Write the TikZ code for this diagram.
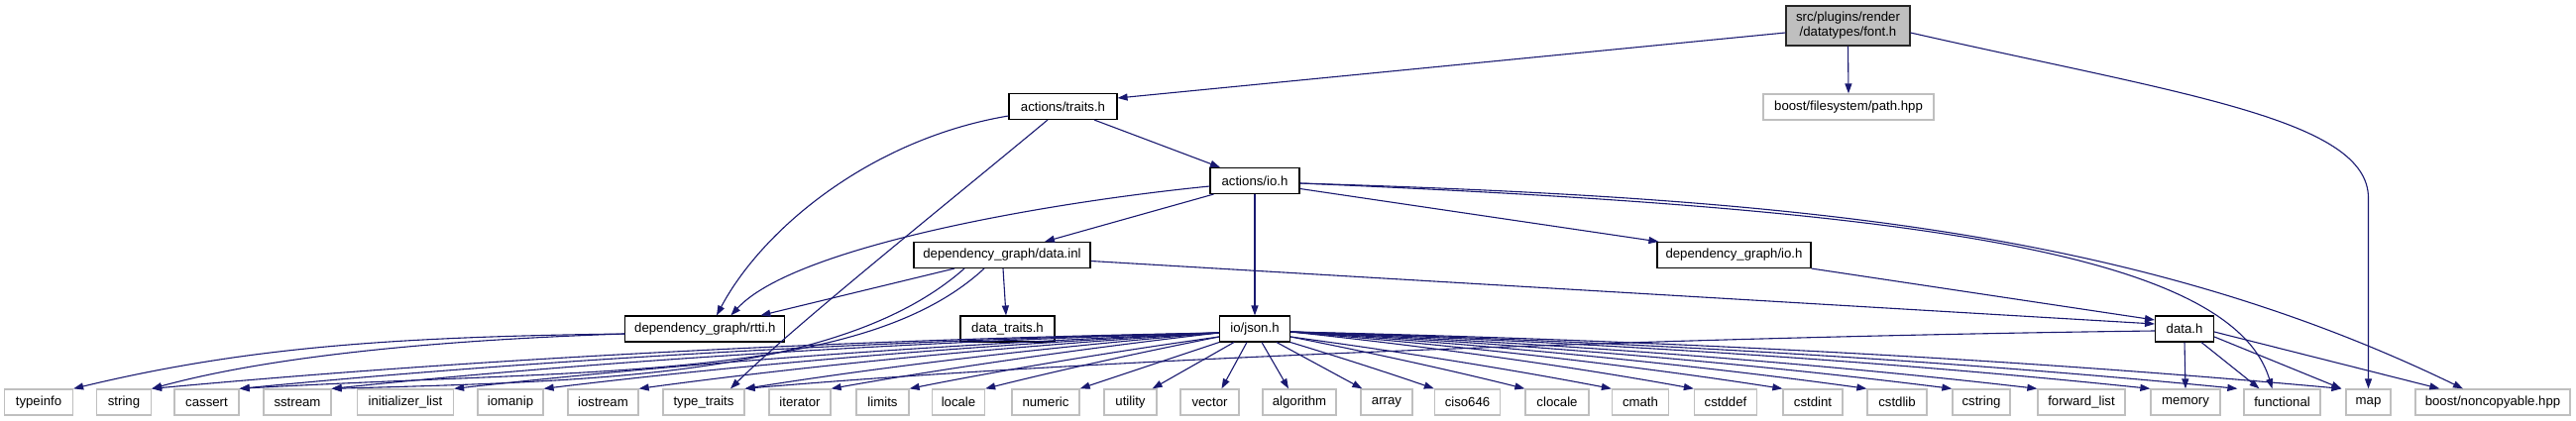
\documentclass[tikz,border=0pt]{standalone}
\usepackage{fontspec}
\setmainfont{Liberation Sans}
\usetikzlibrary{arrows.meta,calc}
\definecolor{edgec}{RGB}{25,25,112}
\definecolor{extc}{RGB}{191,191,191}
\begin{document}
\begin{tikzpicture}[x=1pt,y=-1pt,
  every node/.style={font=\fontsize{13.2}{15}\selectfont, inner sep=0pt, minimum height=26pt, align=center},
  intbox/.style={draw=black, line width=1.1pt, fill=white},
  extbox/.style={draw=extc, line width=1.3pt, fill=white},
  rootbox/.style={draw=black!85, line width=1.1pt, fill=extc, minimum height=40pt},
  dep/.style={draw=edgec, line width=1.1pt, -{Triangle[length=10pt,width=7pt]}},
  fan/.style={to path={.. controls ($(\tikztostart)!0.35!(\tikztotarget)+(0,-#1)$) and ($(\tikztostart)!0.7!(\tikztotarget)+(0,-#1)$) .. (\tikztotarget)}}
]
\fill[white] (0,0) rectangle (2599,425);
\useasboundingbox (0,0) rectangle (2599,425);

% internal nodes
\node[rootbox, minimum width=125pt] (font) at (1864.5,26) {src/plugins/render\\/datatypes/font.h};
\node[extbox, minimum width=172pt] (path) at (1865,108) {boost/filesystem/path.hpp};
\node[intbox, minimum width=109pt] (traits) at (1072.5,107.5) {actions/traits.h};
\node[intbox, minimum width=90pt] (aio) at (1266,182.5) {actions/io.h};
\node[intbox, minimum width=178pt] (datainl) at (1011,257.5) {dependency\_graph/data.inl};
\node[intbox, minimum width=155pt] (dgio) at (1749.5,257.5) {dependency\_graph/io.h};
\node[intbox, minimum width=161pt] (rtti) at (711.4,332) {dependency\_graph/rtti.h};
\node[intbox, minimum width=95pt] (datatraits) at (1016.5,332) {data\_traits.h};
\node[intbox, minimum width=71pt] (json) at (1266,332) {io/json.h};
\node[intbox, minimum width=59pt] (datah) at (2204,332) {data.h};

% bottom row
\node[extbox, minimum width=69pt] (typeinfo) at (39,406) {typeinfo};
\node[extbox, minimum width=55pt] (string) at (125,406) {string};
\node[extbox, minimum width=65pt] (cassert) at (208.5,406) {cassert};
\node[extbox, minimum width=68pt] (sstream) at (300,406) {sstream};
\node[extbox, minimum width=97pt] (initlist) at (409,406) {initializer\_list};
\node[extbox, minimum width=66pt] (iomanip) at (515,406) {iomanip};
\node[extbox, minimum width=71pt] (iostream) at (608.5,406) {iostream};
\node[extbox, minimum width=82pt] (typetraits) at (710,406) {type\_traits};
\node[extbox, minimum width=62pt] (iterator) at (807,406) {iterator};
\node[extbox, minimum width=53pt] (limits) at (890.5,406) {limits};
\node[extbox, minimum width=53pt] (locale) at (967,406) {locale};
\node[extbox, minimum width=68pt] (numeric) at (1055,406) {numeric};
\node[extbox, minimum width=53pt] (utility) at (1140.5,406) {utility};
\node[extbox, minimum width=59pt] (vector) at (1220.5,406) {vector};
\node[extbox, minimum width=74pt] (algorithm) at (1311,406) {algorithm};
\node[extbox, minimum width=52pt] (array) at (1399,406) {array};
\node[extbox, minimum width=66pt] (ciso) at (1480.5,406) {ciso646};
\node[extbox, minimum width=64pt] (clocale) at (1571,406) {clocale};
\node[extbox, minimum width=57pt] (cmath) at (1655,406) {cmath};
\node[extbox, minimum width=63pt] (cstddef) at (1741,406) {cstddef};
\node[extbox, minimum width=60pt] (cstdint) at (1829,406) {cstdint};
\node[extbox, minimum width=60pt] (cstdlib) at (1914,406) {cstdlib};
\node[extbox, minimum width=58pt] (cstring) at (1999,406) {cstring};
\node[extbox, minimum width=88pt] (fwdlist) at (2100,406) {forward\_list};
\node[extbox, minimum width=70pt] (memory) at (2205,406) {memory};
\node[extbox, minimum width=77pt] (functional) at (2302.5,406) {functional};
\node[extbox, minimum width=45pt] (map) at (2389.5,406) {map};
\node[extbox, minimum width=156pt] (noncopy) at (2515,406) {boost/noncopyable.hpp};

% font.h
\draw[dep] ([yshift=-7pt]font.west) -- ([yshift=8.5pt]traits.east);
\draw[dep] (font.south) -- (path.north);
\draw[dep] ([yshift=-7pt]font.east) .. controls (2200,95) and (2389.5,120) .. (2389.5,200) -- (map.north);

% actions/traits.h
\draw[dep] ([xshift=31.5pt]traits.south) -- ([xshift=-35pt]aio.north);
\draw[dep] ([yshift=-9.5pt]traits.west) .. controls (880,140) and (770,230) .. ([xshift=11.6pt]rtti.north);
\draw[dep] ([xshift=-15.5pt]traits.south) .. controls (950,210) and (800,330) .. ([xshift=27pt]typetraits.north);

% actions/io.h
\draw[dep] ([yshift=-5.5pt]aio.west) .. controls (1050,205) and (800,250) .. ([xshift=26pt]rtti.north);
\draw[dep] ([xshift=-41.5pt]aio.south) -- ([xshift=43pt]datainl.north);
\draw[dep] (aio.south) -- (json.north);
\draw[dep] ([yshift=-8pt]aio.east) -- ([xshift=2pt]dgio.north west);
\draw[dep] ([yshift=-2.5pt]aio.east) .. controls (1900,210) and (2250,250) .. ([xshift=-10pt]functional.north);
\draw[dep] ([yshift=-2.5pt]aio.east) .. controls (1800,200) and (2150,230) .. ([xshift=-30pt]noncopy.north);

% dependency_graph/data.inl
\draw[dep] ([xshift=-48pt]datainl.south) -- ([xshift=56pt]rtti.north);
\draw[dep] ([xshift=1pt]datainl.south) -- ([xshift=-1.5pt]datatraits.north);
\draw[dep] ([yshift=-6pt]datainl.east) -- ([yshift=5pt]datah.west);
\draw[dep] ([xshift=-18pt]datainl.south) .. controls (870,385) and (600,372) .. (cassert.north east);
\draw[dep] ([xshift=-38pt]datainl.south) .. controls (850,380) and (600,385) .. (sstream.north east);

% dependency_graph/rtti.h
\draw[dep] ([yshift=-5pt]rtti.west) .. controls (400,340) and (250,350) .. (typeinfo.north east);
\draw[dep] ([yshift=-5pt]rtti.west) .. controls (480,342) and (290,355) .. (string.north east);

% dependency_graph/io.h
\draw[dep] (dgio.south east) -- ([yshift=9pt]datah.west);

% data.h
\draw[dep] (datah.south) -- (memory.north);
\draw[dep] ([xshift=17pt]datah.south) -- ([xshift=-23pt]functional.north);
\draw[dep] ([yshift=-8pt]datah.east) -- ([xshift=-4pt]map.north west);
\draw[dep] ([yshift=-3pt]datah.east) -- ([xshift=25pt]noncopy.north west);
\draw[dep] ([yshift=-2pt]datah.west) .. controls (1700,340) and (1100,362) .. (typetraits.north east);

% io/json.h, left fan
\draw[dep] ([yshift=-4pt]json.west) to[fan=13] (string.north east);
\draw[dep] ([yshift=-4pt]json.west) to[fan=12] (cassert.north east);
\draw[dep] ([yshift=-4pt]json.west) to[fan=11] (sstream.north east);
\draw[dep] ([yshift=-4pt]json.west) to[fan=9] (initlist.north east);
\draw[dep] ([yshift=-4pt]json.west) to[fan=8] (iomanip.north east);
\draw[dep] ([yshift=-4pt]json.west) to[fan=7] (iostream.north east);
\draw[dep] ([yshift=-4pt]json.west) to[fan=6] (typetraits.north east);
\draw[dep] ([yshift=-4pt]json.west) to[fan=4] (iterator.north east);
\draw[dep] ([yshift=-8pt]json.west) to[fan=3] (limits.north east);
\draw[dep] ([yshift=-8pt]json.west) to[fan=2] (locale.north east);
\draw[dep] (json.south west) -- (numeric.north east);
% io/json.h, below
\draw[dep] ([xshift=-21pt]json.south) -- ([xshift=-5pt]utility.north east);
\draw[dep] ([xshift=-8pt]json.south) -- ([xshift=12pt]vector.north);
\draw[dep] ([xshift=7pt]json.south) -- ([xshift=-11pt]algorithm.north);
\draw[dep] ([xshift=22pt]json.south) -- ([xshift=2pt]array.north west);
\draw[dep] (json.south east) to[fan=1] (ciso.north west);
% io/json.h, right fan
\draw[dep] ([yshift=-8pt]json.east) to[fan=2] (clocale.north west);
\draw[dep] ([yshift=-8pt]json.east) to[fan=3] (cmath.north west);
\draw[dep] ([yshift=-3pt]json.east) to[fan=5] (cstddef.north west);
\draw[dep] ([yshift=-3pt]json.east) to[fan=6] (cstdint.north west);
\draw[dep] ([yshift=-3pt]json.east) to[fan=7] (cstdlib.north west);
\draw[dep] ([yshift=-3pt]json.east) to[fan=8] (cstring.north west);
\draw[dep] ([yshift=-3pt]json.east) to[fan=9] (fwdlist.north west);
\draw[dep] ([yshift=-3pt]json.east) to[fan=10] (memory.north west);
\draw[dep] ([yshift=-3pt]json.east) to[fan=11] ([xshift=-6pt]functional.north west);
\draw[dep] ([yshift=-3pt]json.east) to[fan=12] ([xshift=-4pt]map.north west);
\end{tikzpicture}
\end{document}
